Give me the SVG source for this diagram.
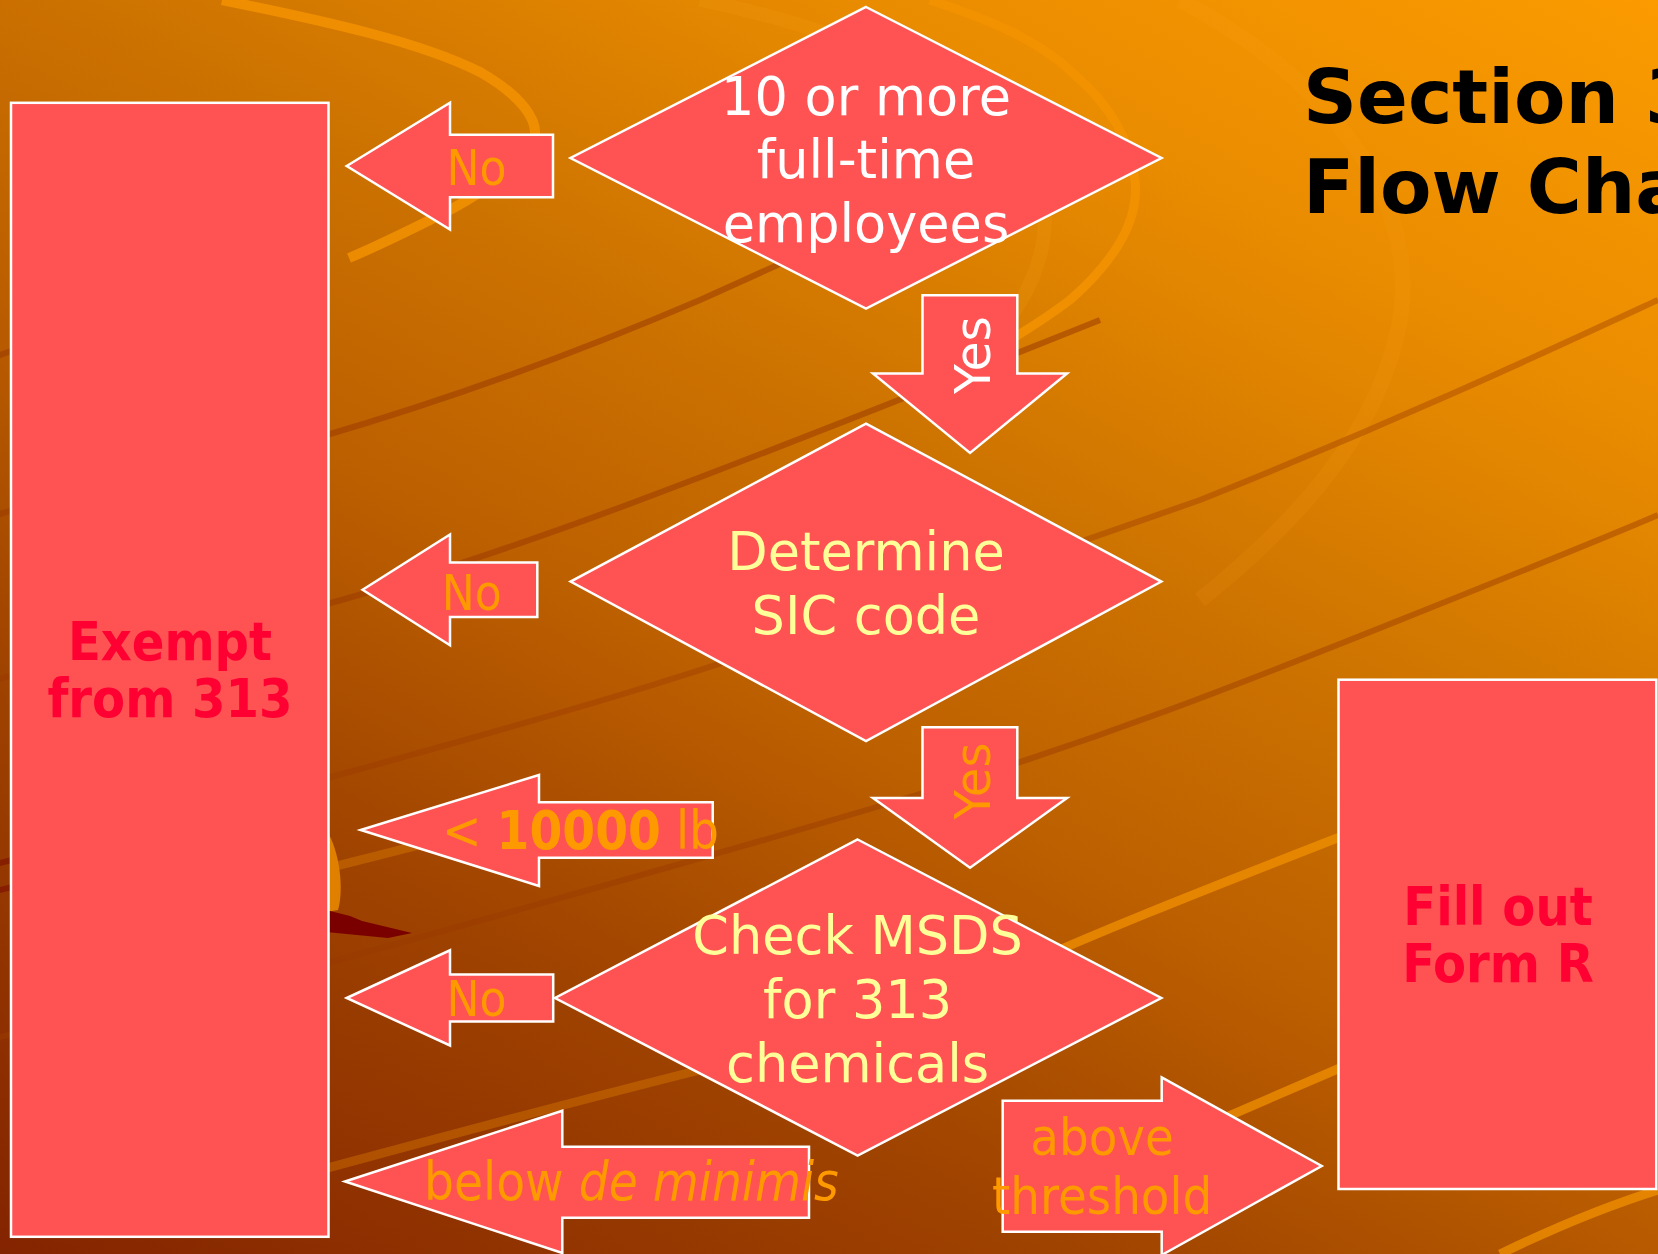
<svg xmlns="http://www.w3.org/2000/svg" width="1658" height="1254" viewBox="0 0 1658 1254">
<defs>
<linearGradient id="bg" x1="0" y1="1254" x2="910" y2="-411" gradientUnits="userSpaceOnUse">
<stop offset="0" stop-color="#832400"/>
<stop offset="0.28" stop-color="#A04400"/>
<stop offset="0.45" stop-color="#BC5F00"/>
<stop offset="0.6" stop-color="#CC7200"/>
<stop offset="0.8" stop-color="#EA8C00"/>
<stop offset="1" stop-color="#FB9B00"/>
</linearGradient>
</defs>
<style>
.shape{fill:#FF5252;stroke:#FFFFFF;stroke-width:2.5;stroke-linejoin:miter}
.dk{fill:none;stroke:#9A3A00;stroke-width:6;stroke-opacity:0.55}
.lt{fill:none;stroke:#F59400;stroke-width:9;stroke-opacity:0.8}
.dtext{font-family:"DejaVu Sans","Verdana",sans-serif;font-size:52.5px;text-anchor:middle}
.lbl{font-family:"DejaVu Sans Condensed","DejaVu Sans",sans-serif;font-stretch:condensed;font-size:50px;fill:#FF9900}
.box{font-family:"DejaVu Sans Condensed","DejaVu Sans",sans-serif;font-stretch:condensed;font-weight:bold;font-size:53.5px;fill:#FF0033;text-anchor:middle}
.title{font-family:"DejaVu Sans","Verdana",sans-serif;font-weight:bold;font-size:75px;fill:#000000}
</style>
<g id="background">
<rect x="0" y="0" width="1658" height="1254" fill="url(#bg)"/>
<path class="lt" style="stroke:#FBA51A;stroke-width:16;stroke-opacity:0.12" d="M1180,0 C1330,80 1420,200 1400,320 C1380,430 1300,520 1200,600"/>
<path class="lt" style="stroke:#FBA51A;stroke-width:14;stroke-opacity:0.15" d="M700,0 C800,20 920,60 1000,120 C1060,170 1060,260 1000,330"/>
<path class="lt" style="stroke-width:10" d="M222,0 C330,22 420,42 480,72 C520,95 540,120 534,140 C520,170 470,200 440,215 C410,230 380,245 349,258"/>
<path class="lt" d="M930,0 C990,20 1040,40 1075,75 C1110,105 1130,140 1135,180 C1140,225 1110,265 1070,300 C1050,315 1030,328 1010,340"/>
<path class="dk" d="M-20,362 L20,348"/>
<path class="dk" d="M-20,520 L20,508"/>
<path class="dk" d="M-20,685 L20,673"/>
<path class="dk" style="stroke:#7A0A00" d="M-20,868 L20,858"/>
<path class="dk" style="stroke:#7A0A00" d="M-20,895 L20,885"/>
<path class="dk" d="M-20,1042 L20,1032"/>
<path class="dk" d="M320,437 C430,405 560,360 700,300 C800,255 900,210 1000,160"/>
<path class="dk" d="M320,606 C450,570 560,530 640,500 C800,440 950,380 1100,320"/>
<path class="dk" style="stroke-opacity:0.4" d="M320,780 C430,750 520,725 620,695 C800,640 1000,570 1200,500 C1400,420 1550,350 1658,300"/>
<path class="dk" style="stroke-opacity:0.45" d="M320,965 C500,915 700,860 900,800 C1100,740 1250,680 1400,620 C1500,580 1600,540 1658,515"/>
<path class="lt" style="stroke-opacity:0.7" d="M980,985 C1100,930 1230,880 1345,835"/>
<path class="lt" style="stroke-opacity:0.7" d="M1150,1150 L1340,1068"/>
<path class="lt" style="stroke-opacity:0.7" d="M1500,1254 C1560,1225 1610,1205 1658,1190"/>
<path class="lt" style="stroke-opacity:0.3" d="M320,1170 C450,1135 560,1105 700,1070 C760,1053 800,1040 850,1025"/>
<path class="lt" style="stroke-opacity:0.3" d="M320,870 C400,850 460,835 520,818"/>
<path fill="#E08000" d="M326,830 C340,850 344,890 338,910 L326,912 Z"/>
<path fill="#7A0000" d="M326,910 L350,916 L362,921 L412,933 L388,938 L326,932 Z"/>
</g>
<g id="title">
<text class="title" x="1303" y="123">Section 3</text>
<text class="title" x="1303" y="213">Flow Cha</text>
</g>
<g id="node-exempt">
<rect class="shape" x="11" y="102.8" width="317.5" height="1134"/>
<text class="box" x="170" y="660">Exempt</text>
<text class="box" x="170" y="717.3">from 313</text>
</g>
<g id="node-employees">
<polygon class="shape" points="866,7 1161.5,158 866,308.5 570.5,158"/>
<text class="dtext" fill="#FFFFFF" x="866" y="115">10 or more</text>
<text class="dtext" fill="#FFFFFF" x="866" y="178.3">full-time</text>
<text class="dtext" fill="#FFFFFF" x="866" y="241.7">employees</text>
</g>
<g id="node-sic">
<polygon class="shape" points="866,423.6 1161.3,581.6 866,741 570.6,581.6"/>
<text class="dtext" fill="#FFFF99" x="866" y="570">Determine</text>
<text class="dtext" fill="#FFFF99" x="866" y="634">SIC code</text>
</g>
<g id="node-msds">
<polygon class="shape" points="857.6,839.5 1161.3,998 857.6,1155.5 555,998"/>
<text class="dtext" fill="#FFFF99" x="857.6" y="954">Check MSDS</text>
<text class="dtext" fill="#FFFF99" x="857.6" y="1018.3">for 313</text>
<text class="dtext" fill="#FFFF99" x="857.6" y="1082.3">chemicals</text>
</g>
<g id="node-formr">
<rect class="shape" x="1338.5" y="679.7" width="317.8" height="509.3"/>
<text class="box" x="1498" y="924.5">Fill out</text>
<text class="box" x="1498" y="982">Form R</text>
</g>
<g id="connectors">
<g id="arrow-no-1">
<polygon class="shape" points="346.7,166 450,102.7 450,134.8 553,134.8 553,197.2 450,197.2 450,229.6"/>
<text class="lbl" x="476.5" y="184.8" text-anchor="middle" textLength="60" lengthAdjust="spacingAndGlyphs">No</text>
</g>
<g id="arrow-yes-1">
<polygon class="shape" points="922.5,295.3 1017.3,295.3 1017.3,373.5 1067,373.5 970,453 873,373.5 922.5,373.5"/>
<text class="lbl" style="fill:#FFFFFF" transform="translate(990,355) rotate(-90)" x="0" y="0" text-anchor="middle" textLength="78" lengthAdjust="spacingAndGlyphs">Yes</text>
</g>
<g id="arrow-no-2">
<polygon class="shape" points="362.6,589.8 450,534.4 450,562.5 537.3,562.5 537.3,617 450,617 450,645.2"/>
<text class="lbl" x="471.7" y="609.5" text-anchor="middle" textLength="60" lengthAdjust="spacingAndGlyphs">No</text>
</g>
<g id="arrow-yes-2">
<polygon class="shape" points="922.5,727.3 1017.3,727.3 1017.3,798 1067,798 970,867.8 873,798 922.5,798"/>
<text class="lbl" transform="translate(990,781) rotate(-90)" x="0" y="0" text-anchor="middle" textLength="77" lengthAdjust="spacingAndGlyphs">Yes</text>
</g>
<g id="arrow-10000">
<polygon class="shape" points="360.7,830 539,775 539,802.3 712.7,802.3 712.7,857.7 539,857.7 539,886"/>
<text class="lbl" x="442" y="849.3" style="font-size:52.5px">&lt; <tspan font-weight="bold">10000</tspan> lb</text>
</g>
<g id="arrow-no-3">
<polygon class="shape" points="346.7,998 450,950.3 450,974.6 553.2,974.6 553.2,1021.6 450,1021.6 450,1045.5"/>
<text class="lbl" x="476.5" y="1016" text-anchor="middle" textLength="60" lengthAdjust="spacingAndGlyphs">No</text>
</g>
<g id="arrow-deminimis">
<polygon class="shape" points="345,1181.5 562.3,1110.7 562.3,1146.7 809,1146.7 809,1217.7 562.3,1217.7 562.3,1253"/>
<text class="lbl" x="424" y="1200" style="font-size:52.5px">below <tspan font-style="italic">de minimis</tspan></text>
</g>
<g id="arrow-threshold">
<polygon class="shape" points="1002.7,1100.7 1161.7,1100.7 1161.7,1077.3 1321.7,1166 1161.7,1255 1161.7,1231.7 1002.7,1231.7"/>
<text class="lbl" x="1102" y="1155" text-anchor="middle" style="font-size:52px">above</text>
<text class="lbl" x="1102" y="1214" text-anchor="middle" style="font-size:52px">threshold</text>
</g>
</g>
</svg>
